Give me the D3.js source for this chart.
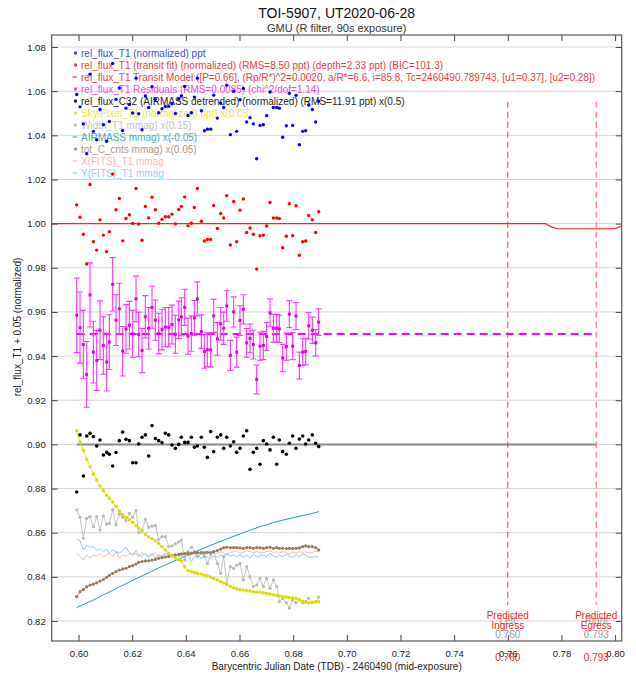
<!DOCTYPE html>
<html><head><meta charset="utf-8">
<script src="https://cdn.jsdelivr.net/npm/d3@7"></script>
<style>body{margin:0;background:#fff}svg text{font-family:"Liberation Sans",Arial,sans-serif}</style>
</head><body>
<svg id="c" width="636" height="675"></svg>
<script>
// ---------------- data ----------------
const times = [0.59932,0.60056,0.60180,0.60304,0.60429,0.60553,0.60677,0.60801,0.60926,0.61050,
0.61149,0.61273,0.61398,0.61522,0.61646,0.61770,0.61895,0.62019,0.62143,0.62243,
0.62367,0.62491,0.62615,0.62740,0.62864,0.62988,0.63112,0.63236,0.63361,0.63485,
0.63609,0.63734,0.63833,0.63957,0.64081,0.64205,0.64317,0.64429,0.64578,0.64690,
0.64802,0.64926,0.65038,0.65175,0.65299,0.65411,0.65523,0.65659,0.65783,0.65895,
0.66019,0.66143,0.66268,0.66392,0.66516,0.66641,0.66765,0.66889,0.67013,0.67138,
0.67262,0.67386,0.67485,0.67610,0.67746,0.67858,0.67982,0.68107,0.68231,0.68355,
0.68467,0.68579,0.68715,0.68840,0.68952];
// detrended normalized rel_flux_T1 (transit fit)
const fluxT1 = [1.0085,1.0029,0.9952,0.9817,1.0177,0.9918,0.9880,1.0017,0.9948,0.9873,
0.9963,1.0225,1.0063,1.0114,0.9922,1.0023,1.0040,1.0001,1.0159,0.9998,
0.9925,1.0078,1.0026,1.0120,1.0063,1.0002,1.0020,1.0031,1.0031,1.0043,
0.9999,1.0064,1.0078,1.0121,0.9990,1.0002,1.0073,1.0159,1.0011,0.9921,
0.9928,0.9928,1.0082,0.9978,1.0046,1.0026,1.0127,0.9903,1.0100,0.9918,
1.0061,1.0112,0.9960,0.9980,0.9952,0.9794,0.9945,0.9948,0.9989,1.0096,
1.0026,1.0026,1.0023,0.9891,0.9943,1.0090,0.9945,1.0081,0.9857,0.9918,
0.9921,1.0037,1.0017,0.9960,1.0054];
// flux errors (ppt)
const fluxErr = [16.9,16.1,15.5,14.9,14.5,14.0,13.6,13.3,13.0,13.1,
12.4,12.1,11.5,11.6,11.2,11.0,10.8,10.6,10.3,10.1,
10.0,9.6,9.4,9.6,9.1,9.2,9.2,8.9,8.9,8.8,
8.6,8.5,8.6,8.2,8.2,8.0,7.9,7.7,7.6,7.6,
7.7,7.7,7.5,7.4,7.4,7.3,6.9,6.8,6.8,6.8,
6.7,6.6,6.5,6.5,6.5,6.5,6.4,6.4,6.3,6.3,
6.3,6.2,6.2,6.2,6.2,6.1,6.1,6.1,6.1,6.0,
6.0,6.0,6.0,6.0,6.0];
const c32 = [0.8784,0.9043,0.8857,0.9038,0.9050,0.9035,0.8993,0.9020,0.8952,0.8964,
0.8955,0.8902,0.8963,0.9017,0.9056,0.9023,0.9017,0.8917,0.8917,0.9002,
0.9032,0.9043,0.8947,0.9085,0.9027,0.9017,0.9008,0.9050,0.9043,0.8997,
0.8982,0.9000,0.9032,0.9009,0.9009,0.9032,0.8987,0.8993,0.9032,0.8987,
0.8941,0.9058,0.8967,0.9032,0.9043,0.8982,0.9032,0.8993,0.9012,0.8964,
0.8982,0.9038,0.9062,0.8887,0.8964,0.8982,0.8910,0.9017,0.9002,0.8975,
0.9032,0.8910,0.9020,0.8967,0.8955,0.9005,0.9038,0.8982,0.9024,0.9038,
0.9002,0.9020,0.9043,0.9005,0.8990];
const sky = [0.9062,0.9012,0.8972,0.8932,0.8899,0.8866,0.8839,0.8812,0.8790,0.8769,
0.8756,0.8739,0.8718,0.8698,0.8682,0.8670,0.8659,0.8647,0.8632,0.8620,
0.8608,0.8593,0.8582,0.8573,0.8564,0.8552,0.8537,0.8522,0.8507,0.8494,
0.8485,0.8478,0.8472,0.8446,0.8428,0.8424,0.8419,0.8416,0.8413,0.8408,
0.8405,0.8399,0.8393,0.8386,0.8378,0.8372,0.8365,0.8357,0.8350,0.8346,
0.8343,0.8340,0.8337,0.8336,0.8333,0.8331,0.8330,0.8328,0.8325,0.8322,
0.8319,0.8316,0.8313,0.8310,0.8309,0.8307,0.8306,0.8303,0.8297,0.8289,
0.8285,0.8283,0.8285,0.8286,0.8287];
const widthT1 = [0.8703,0.8670,0.8575,0.8665,0.8673,0.8627,0.8673,0.8612,0.8676,0.8639,
0.8642,0.8703,0.8635,0.8685,0.8670,0.8655,0.8688,0.8670,0.8700,0.8600,
0.8612,0.8661,0.8624,0.8630,0.8633,0.8570,0.8582,0.8582,0.8537,0.8540,
0.8549,0.8558,0.8567,0.8476,0.8514,0.8534,0.8514,0.8492,0.8507,0.8492,
0.8461,0.8499,0.8514,0.8461,0.8416,0.8492,0.8371,0.8446,0.8438,0.8453,
0.8461,0.8386,0.8446,0.8401,0.8356,0.8363,0.8393,0.8356,0.8393,0.8348,
0.8386,0.8356,0.8288,0.8303,0.8283,0.8258,0.8296,0.8283,0.8296,0.8283,
0.8288,0.8303,0.8283,0.8288,0.8308];
const airmassT = [0.59932,0.60553,0.61174,0.61795,0.62416,0.63037,0.63659,0.64280,0.64901,0.65523,0.66143,0.66765,0.67386,0.68007,0.68628,0.68952];
const airmass = [0.82605,0.82953,0.83330,0.83708,0.84070,0.84433,0.84765,0.85096,0.85414,0.85716,0.86002,0.86274,0.86500,0.86682,0.86847,0.86953];
const totC = [0.8310,0.8333,0.8343,0.8355,0.8363,0.8367,0.8373,0.8381,0.8388,0.8398,
0.8407,0.8416,0.8424,0.8431,0.8436,0.8439,0.8446,0.8451,0.8458,0.8466,
0.8469,0.8472,0.8473,0.8476,0.8479,0.8484,0.8487,0.8490,0.8492,0.8495,
0.8499,0.8502,0.8504,0.8505,0.8507,0.8507,0.8510,0.8510,0.8511,0.8510,
0.8511,0.8510,0.8514,0.8519,0.8526,0.8532,0.8534,0.8532,0.8532,0.8532,
0.8531,0.8529,0.8532,0.8532,0.8529,0.8532,0.8532,0.8529,0.8532,0.8534,
0.8529,0.8532,0.8529,0.8529,0.8528,0.8529,0.8528,0.8529,0.8531,0.8537,
0.8540,0.8537,0.8537,0.8532,0.8522];
const xFits = [0.8507,0.8492,0.8476,0.8499,0.8484,0.8499,0.8492,0.8507,0.8489,0.8499,
0.8507,0.8492,0.8514,0.8484,0.8499,0.8492,0.8507,0.8495,0.8522,0.8499,
0.8492,0.8507,0.8495,0.8499,0.8507,0.8492,0.8499,0.8507,0.8495,0.8499,
0.8504,0.8495,0.8499,0.8507,0.8495,0.8499,0.8510,0.8504,0.8507,0.8499,
0.8507,0.8510,0.8504,0.8507,0.8514,0.8507,0.8504,0.8510,0.8514,0.8519,
0.8507,0.8510,0.8519,0.8514,0.8510,0.8514,0.8507,0.8510,0.8514,0.8519,
0.8510,0.8513,0.8507,0.8514,0.8510,0.8504,0.8513,0.8507,0.8514,0.8510,
0.8514,0.8507,0.8511,0.8517,0.8514];
const yFits = [0.8570,0.8564,0.8522,0.8544,0.8534,0.8537,0.8519,0.8529,0.8514,0.8525,
0.8507,0.8522,0.8514,0.8507,0.8519,0.8534,0.8510,0.8499,0.8507,0.8492,
0.8510,0.8499,0.8489,0.8507,0.8484,0.8499,0.8492,0.8504,0.8495,0.8492,
0.8507,0.8489,0.8499,0.8484,0.8504,0.8469,0.8492,0.8507,0.8480,0.8499,
0.8489,0.8480,0.8495,0.8489,0.8499,0.8492,0.8504,0.8495,0.8499,0.8492,
0.8499,0.8489,0.8499,0.8484,0.8504,0.8489,0.8495,0.8499,0.8492,0.8507,
0.8495,0.8489,0.8499,0.8492,0.8502,0.8495,0.8489,0.8499,0.8492,0.8504,
0.8499,0.8489,0.8489,0.8492,0.8489];
// transit model
const modelT = [0.5900,0.7741,0.7762,0.7784,0.8000,0.8025];
const modelF = [1.0000,1.0000,0.9985,0.99767,0.99767,0.9990];
const predictedT = [0.760, 0.793];
const predictedSide = ["Left", "Right"];
const predictedKind = ["Ingress", "Egress"];
const predictedLabel = ["0.760", "0.793"];
const xTicks = [0.60,0.62,0.64,0.66,0.68,0.70,0.72,0.74,0.76,0.78,0.80];
const yTicks = [0.82,0.84,0.86,0.88,0.90,0.92,0.94,0.96,0.98,1.00,1.02,1.04,1.06,1.08];
const legendLabels = [
"rel_flux_T1 (normalized) ppt",
"rel_flux_T1 (transit fit) (normalized) (RMS=8.50 ppt) (depth=2.33 ppt) (BIC=101.3)",
"rel_flux_T1 Transit Model ([P=0.66], (Rp/R*)^2=0.0020, a/R*=6.6, i=85.8, Tc=2460490.789743, [u1=0.37], [u2=0.28])",
"rel_flux_T1 Residuals (RMS=0.0085) (chi^2/dof=1.14)",
"rel_flux_C32 (AIRMASS detrended) (normalized) (RMS=11.91 ppt) x(0.5)",
"Sky/Pixel_T1 (normalized) ppt) x(0.05)",
"Width_T1 mmag) x(0.15)",
"AIRMASS mmag) x(-0.05)",
"tot_C_cnts mmag) x(0.05)",
"X(FITS)_T1 mmag",
"Y(FITS)_T1 mmag"];
const legendSymbols = ["dot","dot","line","dot","dot","dot","dot","line","dot","line","line"];
const legendColors = ["#4646f0","#f03c3c","#f03c3c","#f046f0","#1e1e1e","#e6e646","#c3c3c3","#3cafbe","#ac9686","#ffb4b4","#8cd2f0"];

// offsets used by the plot
const blueShift = 0.05, residBase = 0.95, c32Base = 0.90;

// ---------------- layout ----------------
const svg = d3.select("#c");
const X0 = 51.7, X1 = 621.7, Y0 = 35, Y1 = 641;
const x = d3.scaleLinear().domain([0.5900, 0.80246]).range([X0, X1]);
const y = d3.scaleLinear().domain([0.81094, 1.08544]).range([Y1, Y0]);

svg.append("defs").append("clipPath").attr("id","clip")
  .append("rect").attr("x",X0).attr("y",Y0).attr("width",X1-X0).attr("height",Y1-Y0);

// titles
svg.append("text").attr("x",(X0+X1)/2).attr("y",18).attr("text-anchor","middle")
  .attr("font-size",14).attr("fill","#111").text("TOI-5907, UT2020-06-28");
svg.append("text").attr("x",(X0+X1)/2).attr("y",32).attr("text-anchor","middle")
  .attr("font-size",11).attr("fill","#333").text("GMU (R filter, 90s exposure)");

// grid
svg.append("g").selectAll("line").data(yTicks).join("line")
  .attr("x1",X0).attr("x2",X1).attr("y1",d=>y(d)).attr("y2",d=>y(d))
  .attr("stroke","#d4d4d4").attr("stroke-width",1);

// legend
const lg = svg.append("g").attr("font-size",10);
legendLabels.forEach((lab,i)=>{
  const yy = 56.5 + i*12;
  if (legendSymbols[i]==="dot") {
    lg.append("circle").attr("cx",75.5).attr("cy",yy-3.5).attr("r",1.7).attr("fill",legendColors[i]);
  } else {
    lg.append("line").attr("x1",72.5).attr("x2",77).attr("y1",yy-3.5).attr("y2",yy-3.5)
      .attr("stroke",legendColors[i]).attr("stroke-width",1.2);
  }
  lg.append("text").attr("x",81).attr("y",yy).attr("fill",legendColors[i]).text(lab);
});

const plot = svg.append("g").attr("clip-path","url(#clip)");
const idx = d3.range(times.length);

// model line
const modelIdx = d3.range(modelT.length);
plot.append("path").datum(modelIdx)
  .attr("d", d3.line().x(i=>x(modelT[i])).y(i=>y(modelF[i])))
  .attr("fill","none").attr("stroke","#ff2020").attr("stroke-width",1.2);

// reference lines
plot.append("line").attr("x1",x(times[0])).attr("x2",x(predictedT[1]))
  .attr("y1",y(c32Base)).attr("y2",y(c32Base)).attr("stroke","#8a8a8a").attr("stroke-width",2);
plot.append("line").attr("x1",x(times[0])).attr("x2",x(predictedT[1]))
  .attr("y1",y(residBase)).attr("y2",y(residBase)).attr("stroke","#ff00ff")
  .attr("stroke-width",2).attr("stroke-dasharray","8,5");

// predicted ingress/egress
predictedT.forEach((t,i)=>{
  plot.append("line").attr("x1",x(t)).attr("x2",x(t)).attr("y1",y(1.0552)).attr("y2",y(0.8272))
    .attr("stroke", i===0 ? "#ff3030" : "#ff8c8c").attr("stroke-width", i===0 ? 1 : 1.6)
    .attr("stroke-dasharray","6,4");
  const g = svg.append("g").attr("font-size",10).attr("text-anchor","middle");
  g.append("text").attr("x",x(t)).attr("y",624).attr("fill","#9a9a9a").text(predictedSide[i]);
  g.append("text").attr("x",x(t)).attr("y",638).attr("fill","#9a9a9a").text(predictedLabel[i]);
  g.append("text").attr("x",x(t)).attr("y",619).attr("fill","#ff2020").text("Predicted");
  g.append("text").attr("x",x(t)).attr("y",628.5).attr("fill","#ff2020").text(predictedKind[i]);
  g.append("text").attr("x",x(t)).attr("y",661).attr("fill","#ff2020").text(predictedLabel[i]);
});

// auxiliary lines
function seriesLine(vals, color, w, tarr) {
  const tt = tarr || times;
  plot.append("path").datum(d3.range(vals.length))
    .attr("d", d3.line().x(i=>x(tt[i])).y(i=>y(vals[i])))
    .attr("fill","none").attr("stroke",color).attr("stroke-width",w);
}
function seriesDots(vals, color, r, shift) {
  const s = shift || 0;
  plot.append("g").selectAll("circle").data(idx).join("circle")
    .attr("cx",i=>x(times[i])).attr("cy",i=>y(vals[i]+s)).attr("r",r).attr("fill",color);
}
seriesLine(xFits, "#ffb4b4", 1);
seriesLine(yFits, "#7fd0f2", 1);
seriesLine(airmass, "#1e9eb0", 1, airmassT);
seriesLine(widthT1, "#c4c4c4", 1);
seriesDots(widthT1, "#b8b8b8", 1.6);
seriesLine(totC, "#a88a70", 1);
seriesDots(totC, "#9c7a60", 1.6);
seriesLine(sky, "#e6e600", 1);
seriesDots(sky, "#dcdc00", 1.7);

// residual error bars
const eb = plot.append("g");
idx.forEach(i=>{
  const v = fluxT1[i] - 1 + residBase, e = fluxErr[i]/1000;
  const xx = x(times[i]);
  eb.append("line").attr("x1",xx).attr("x2",xx).attr("y1",y(v-e)).attr("y2",y(v+e))
    .attr("stroke","#ff30ff").attr("stroke-width",1.1);
  [v-e, v+e].forEach(w=>{
    eb.append("line").attr("x1",xx-3).attr("x2",xx+3).attr("y1",y(w)).attr("y2",y(w))
      .attr("stroke","#ff30ff").attr("stroke-width",1.1);
  });
});
plot.append("g").selectAll("rect").data(idx).join("rect")
  .attr("x",i=>x(times[i])-1.5).attr("y",i=>y(fluxT1[i]-1+residBase)-1.5)
  .attr("width",3).attr("height",3).attr("fill","#e000e0");

seriesDots(fluxT1, "#0000ff", 1.7, blueShift);
seriesDots(fluxT1, "#ff0000", 1.7, 0);
seriesDots(c32, "#000000", 1.8, 0);

// axes
const fmt = d3.format(".2f");
const axB = svg.append("g").attr("transform",`translate(0,${Y1})`)
  .call(d3.axisBottom(x).tickValues(xTicks).tickSize(-6).tickPadding(9.5).tickFormat(fmt));
const axT = svg.append("g").attr("transform",`translate(0,${Y0})`)
  .call(d3.axisTop(x).tickValues(xTicks).tickSize(-6).tickFormat(""));
const axL = svg.append("g").attr("transform",`translate(${X0},0)`)
  .call(d3.axisLeft(y).tickValues(yTicks).tickSize(-6).tickPadding(6).tickFormat(fmt));
const axR = svg.append("g").attr("transform",`translate(${X1},0)`)
  .call(d3.axisRight(y).tickValues(yTicks).tickSize(-6).tickFormat(""));
[axB,axT,axL,axR].forEach(a=>{
  a.select(".domain").remove();
  a.selectAll("line").attr("stroke","#444");
  a.selectAll("text").attr("font-size",9.5).attr("fill","#222")
    .attr("font-family","'Liberation Sans',Arial,sans-serif");
});
svg.append("rect").attr("x",X0).attr("y",Y0).attr("width",X1-X0).attr("height",Y1-Y0)
  .attr("fill","none").attr("stroke","#555").attr("stroke-width",1.2);

svg.append("text").attr("x",(X0+X1)/2).attr("y",670).attr("text-anchor","middle")
  .attr("font-size",10).attr("fill","#222")
  .text("Barycentric Julian Date (TDB) - 2460490 (mid-exposure)");
svg.append("text").attr("transform",`translate(21,327) rotate(-90)`)
  .attr("text-anchor","middle").attr("font-size",10).attr("fill","#222")
  .text("rel_flux_T1 + 0.05 (normalized)");
</script>
</body></html>
